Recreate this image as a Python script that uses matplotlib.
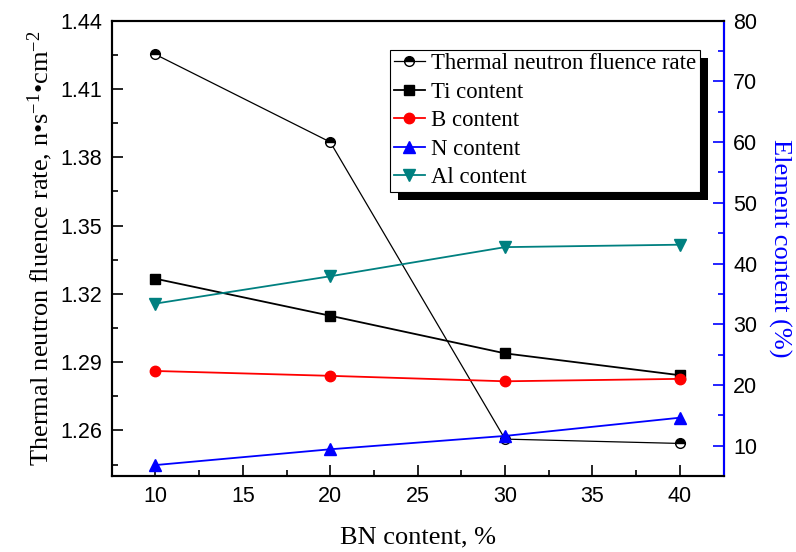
import numpy as np
import matplotlib
matplotlib.use('Agg')
import matplotlib.pyplot as plt
from matplotlib.patches import Rectangle
from matplotlib.ticker import MultipleLocator

# data
bn = [10, 20, 30, 40]
fluence = [1.4252, 1.3867, 1.2562, 1.2543]
ti = [37.5, 31.4, 25.2, 21.6]
b = [22.3, 21.5, 20.6, 21.0]
n = [6.8, 9.4, 11.6, 14.6]
al = [33.4, 37.9, 42.7, 43.1]

left_ticks = [1.26, 1.29, 1.32, 1.35, 1.38, 1.41, 1.44]
right_ticks = [10, 20, 30, 40, 50, 60, 70, 80]

serif = 'Liberation Serif'
sans = 'Liberation Sans'
plt.rcParams['mathtext.fontset'] = 'custom'
plt.rcParams['mathtext.rm'] = serif
plt.rcParams['mathtext.it'] = serif + ':italic'

fig = plt.figure(figsize=(7.96, 5.52), dpi=100)
ax = fig.add_axes([0.1403, 0.1377, 0.9090 - 0.1403, 0.9625 - 0.1377])
ax2 = ax.twinx()

h0, = ax.plot(bn, fluence, color='black', lw=0.9, marker='o', ms=7,
              fillstyle='top', markerfacecolor='black',
              markerfacecoloralt='white', markeredgecolor='black',
              mew=1.0, label='Thermal neutron fluence rate')
h1, = ax2.plot(bn, ti, color='black', lw=1.3, marker='s', ms=6.5,
               label='Ti content')
h2, = ax2.plot(bn, b, color='red', lw=1.3, marker='o', ms=7.5,
               label='B content')
h3, = ax2.plot(bn, n, color='blue', lw=1.3, marker='^', ms=8,
               label='N content')
h4, = ax2.plot(bn, al, color='#008080', lw=1.3, marker='v', ms=8,
               label='Al content')

ax.set_xlim(7.5, 42.5)
ax.set_ylim(1.24, 1.44)
ax2.set_ylim(5, 80)

ax.xaxis.set_major_locator(MultipleLocator(5))
ax.xaxis.set_minor_locator(MultipleLocator(2.5))
ax.yaxis.set_minor_locator(MultipleLocator(0.015))
ax.set_yticks(left_ticks)
ax.set_yticklabels(['%.2f' % v for v in left_ticks])
ax2.yaxis.set_minor_locator(MultipleLocator(5))
ax2.set_yticks(right_ticks)

tick_size = 15.5
ax.tick_params(axis='both', which='major', direction='in', length=8,
               width=1.2, labelsize=tick_size, pad=7)
ax.tick_params(axis='both', which='minor', direction='in', length=4,
               width=1.2)
ax.tick_params(axis='x', which='both', top=False)
ax2.tick_params(axis='y', which='major', direction='in', length=8,
                width=1.2, color='blue', labelsize=tick_size, pad=7)
ax2.tick_params(axis='y', which='minor', direction='in', length=4,
                width=1.2, color='blue')
for lbl in ax.get_xticklabels() + ax.get_yticklabels() + ax2.get_yticklabels():
    lbl.set_fontfamily(sans)

for sp in ax.spines.values():
    sp.set_linewidth(1.5)
for sp in ax2.spines.values():
    sp.set_linewidth(1.5)
ax2.spines['right'].set_color('blue')

ax.set_xlabel('BN content, %', fontfamily=serif, fontsize=19, labelpad=14)
ax.set_ylabel(r'Thermal neutron fluence rate, n•s$^{\mathregular{-1}}$•cm$^{\mathregular{-2}}$',
              fontfamily=serif, fontsize=19, labelpad=4)
ax2.set_ylabel('Element content (%)', fontfamily=serif, fontsize=19,
               color='blue', rotation=270, labelpad=24)

leg = ax2.legend(handles=[h0, h1, h2, h3, h4], loc='upper left',
                 bbox_to_anchor=(0.455, 0.936), borderaxespad=0,
                 prop={'family': serif, 'size': 16.4}, fancybox=False,
                 framealpha=1, edgecolor='black', borderpad=0.15,
                 labelspacing=0.33, handlelength=1.4, handletextpad=0.25)
leg.get_frame().set_linewidth(0.8)
leg.set_zorder(6)

# solid black drop shadow behind the legend box
fig.canvas.draw()
bb = leg.get_window_extent()
shadow = Rectangle((bb.x0 + 8, bb.y0 - 8), bb.width, bb.height,
                   transform=None, facecolor='black', edgecolor='none',
                   zorder=5.5, clip_on=False)
ax2.add_artist(shadow)

plt.savefig('out.png', dpi=100)
